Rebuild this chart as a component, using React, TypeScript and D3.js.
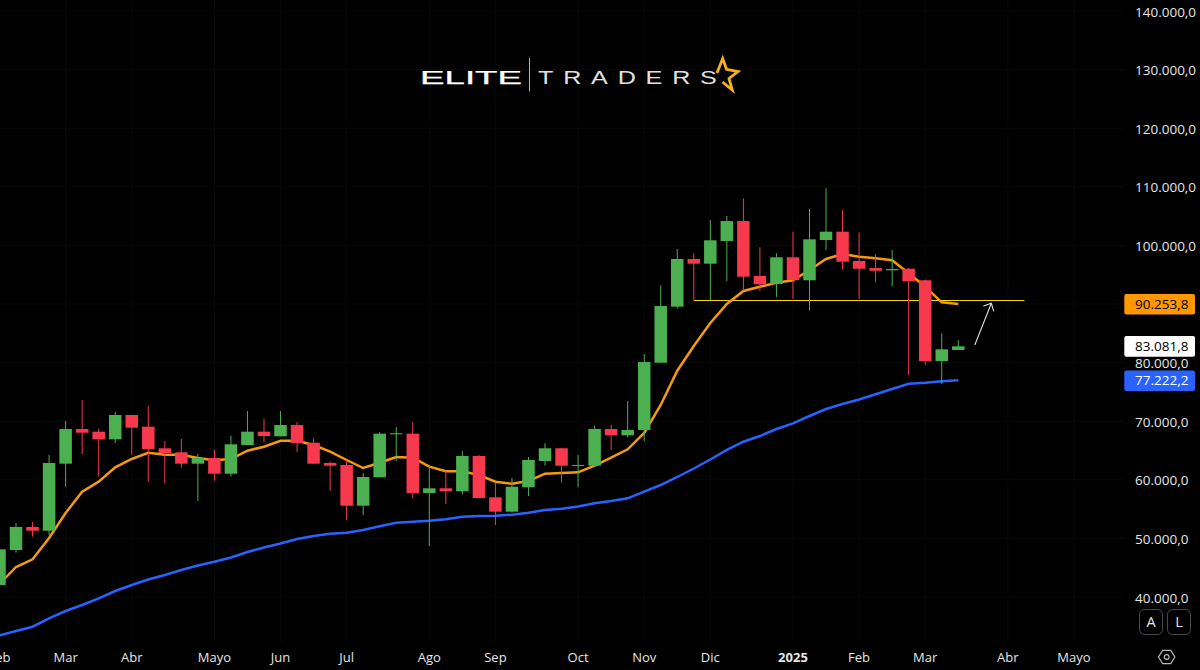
import * as d3 from "d3";

// weekly candles, prices
const opens = [
  42050, 48020, 51950, 51310, 62750, 68670, 68210, 66910, 71060, 69060,
  65380, 64690, 62750, 63720, 61040, 65940, 68210, 67420, 69350, 66330,
  62870, 62530, 55580, 60430, 67760, 67870, 57750, 58550, 58040, 64060,
  57010, 54560, 58720, 63210, 65380, 62360, 62410, 68670, 67590, 68500,
  79980, 89540, 97680, 96880, 100750, 104160, 94780, 93410, 97970, 94050,
  100920, 102340, 97340, 96140, 95750, 96020, 94050, 80270, 82150,
];
const highs = [
  48360, 52630, 52800, 64230, 70030, 73620, 68670, 71570, 71060, 72590,
  66620, 66960, 64400, 65200, 67530, 71740, 70380, 71740, 69860, 67080,
  63090, 63380, 61110, 68110, 69010, 69860, 62410, 61550, 64920, 64230,
  59510, 60310, 63890, 66230, 65380, 64230, 69230, 69350, 73450, 81470,
  93190, 99390, 98650, 104340, 105020, 108040, 99680, 98650, 102340, 106210,
  109740, 106040, 102240, 98530, 99220, 96140, 94160, 85000, 83810,
];
const lows = [
  41900, 47560, 50290, 50580, 58820, 64400, 60530, 66280, 64230, 59680,
  59330, 62070, 56380, 59850, 60530, 65940, 66400, 67420, 64740, 62750,
  58090, 53140, 53990, 60430, 63260, 56840, 48700, 55870, 57530, 56890,
  52290, 54390, 57240, 62410, 59510, 58720, 62240, 65090, 67250, 66570,
  79980, 89200, 90630, 90630, 93870, 92220, 92220, 91200, 90850, 88860,
  99220, 95850, 90850, 93700, 93020, 77880, 79590, 76300, 82150,
];
const closes = [
  48140, 51950, 51310, 62870, 68670, 68040, 66910, 71060, 68890, 65260,
  64570, 62750, 63720, 61040, 66060, 68210, 67470, 69350, 66280, 62750,
  62410, 55580, 60480, 67870, 67940, 57750, 58550, 58040, 64060, 56890,
  54560, 58820, 63380, 65380, 62410, 62530, 68670, 67590, 68500, 80100,
  89660, 97680, 96880, 100870, 104160, 94660, 93360, 97970, 94100, 101040,
  102340, 97220, 96020, 95680, 95970, 93870, 80270, 82270, 82780,
];
const emaFast = [
  42220, 45120, 46430, 50070, 54330, 57970, 59680, 62130, 63550, 64620,
  64280, 64280, 63720, 63330, 63550, 64970, 65650, 66670, 66670, 65940,
  64800, 63380, 62010, 62920, 63890, 63770, 62240, 61450, 61450, 60820,
  59680, 59330, 59800, 61040, 61160, 61280, 62410, 63770, 65200, 67990,
  72770, 78620, 82830, 86760, 90000, 92220, 92950, 93640, 94050, 95800,
  97680, 98530, 98070, 97800, 97460, 95240, 92950, 90290, 90000,
];
const emaSlow = [
  33460, 34200, 34930, 36370, 37610, 38630, 39780, 41020, 42050, 42990,
  43750, 44610, 45380, 46020, 46740, 47680, 48450, 49130, 49900, 50410,
  50800, 50970, 51430, 52070, 52680, 52850, 53020, 53260, 53700, 53820,
  53870, 54040, 54390, 54850, 55070, 55440, 55990, 56380, 56840, 57970,
  59110, 60480, 61930, 63460, 65090, 66500, 67470, 68670, 69640, 70890,
  72080, 72940, 73700, 74590, 75500, 76400, 76570, 76810, 76980,
];

const priceTicks = [140000, 130000, 120000, 110000, 100000, 80000, 70000, 60000, 50000, 40000];
const timeTicks = [
  { i: 0, label: "Feb" },
  { i: 4, label: "Mar" },
  { i: 8, label: "Abr" },
  { i: 13, label: "Mayo" },
  { i: 17, label: "Jun" },
  { i: 21, label: "Jul" },
  { i: 26, label: "Ago" },
  { i: 30, label: "Sep" },
  { i: 35, label: "Oct" },
  { i: 39, label: "Nov" },
  { i: 43, label: "Dic" },
  { i: 48, label: "2025" },
  { i: 52, label: "Feb" },
  { i: 56, label: "Mar" },
  { i: 61, label: "Abr" },
  { i: 65, label: "Mayo" },
];
const priceTags = [
  { value: 90253.8, fill: "#ff9800", text: "#000" },
  { value: 83081.8, fill: "#fff", text: "#000" },
  { value: 77222.2, fill: "#2962ff", text: "#fff" },
];
const levelPrice = 90630;
const levelFrom = 42;
const levelTo = 62;
const arrowFrom = { i: 59, price: 83000 };
const arrowTo = { i: 60, price: 90120 };

const WIDTH = 1200;
const HEIGHT = 670;
const UP = "#4caf50";
const DOWN = "#f7394d";
const FONT = "'Open Sans', sans-serif";
const LABEL = "#e6e6e6";

const x = d3.scaleLinear().domain([0, 62]).range([-0.5, 1024.4]);
const y = d3.scaleLinear().domain([40000, 140000]).range([597, 11]);

const locale = d3.formatLocale({
  decimal: ",",
  thousands: ".",
  grouping: [3],
  currency: ["", ""],
});
const fmt = locale.format(",.1f");

const line = d3
  .line<number>()
  .x((_, i) => x(i))
  .y((d) => y(d));

const candles = opens.map((o, i) => ({
  i,
  o,
  h: highs[i],
  l: lows[i],
  c: closes[i],
}));

// hexagon of the settings button
const hexagon = d3.range(6).map((k) => {
  const a = (k * Math.PI) / 3;
  return [1166.7 + 8.2 * Math.cos(a), 657 + 7.6 * Math.sin(a)] as [number, number];
});

export default function App() {
  const bodyW = 12.5;
  const tipX = x(arrowTo.i);
  const tipY = y(arrowTo.price);
  const levelY = Math.round(y(levelPrice)) + 0.5;

  return (
    <svg
      width={WIDTH}
      height={HEIGHT}
      viewBox={`0 0 ${WIDTH} ${HEIGHT}`}
      style={{ position: "fixed", left: 0, top: 0, display: "block", background: "#000" }}
    >
      <rect width={WIDTH} height={HEIGHT} fill="#000" />

      {/* faint grid */}
      {priceTicks.concat(90000).map((t) => (
        <line key={t} x1={0} x2={1124} y1={y(t)} y2={y(t)} stroke="#090909" />
      ))}
      {timeTicks.map((t, k) => (
        <line key={k} x1={x(t.i)} x2={x(t.i)} y1={0} y2={642} stroke="#090909" />
      ))}

      {/* logo */}
      <g fontFamily="'Liberation Sans', sans-serif" fontSize={18}>
        <text
          x={420}
          y={83.5}
          fill="#fff"
          stroke="#fff"
          strokeWidth={0.25}
          textLength={102}
          lengthAdjust="spacingAndGlyphs"
        >
          ELITE
        </text>
        <line x1={529.5} x2={529.5} y1={58} y2={91.5} stroke="#b5b5b5" />
        <text
          transform="translate(538 83.5) scale(1.4 1)"
          fill="#e2e2e2"
          textLength={127.8}
          lengthAdjust="spacing"
        >
          TRADERS
        </text>
        <path
          d="M717,73 L722.7,58.5 L726.5,69.3 L738,71.5 L729,78.5 L732.3,90 L722.5,82"
          fill="none"
          stroke="#f5b01e"
          strokeWidth={2.8}
        />
      </g>

      {/* moving averages and the level stay behind the candles */}
      <line x1={x(levelFrom)} x2={x(levelTo)} y1={levelY} y2={levelY} stroke="#f5d90a" strokeWidth={1} />
      <path d={line(emaSlow) ?? ""} fill="none" stroke="#2962ff" strokeWidth={2.5} />
      <path d={line(emaFast) ?? ""} fill="none" stroke="#f59a0c" strokeWidth={2.5} />

      {candles.map((d) => {
        const color = d.c >= d.o ? UP : DOWN;
        const top = y(Math.max(d.o, d.c));
        const bottom = y(Math.min(d.o, d.c));
        return (
          <g key={d.i}>
            <line x1={x(d.i)} x2={x(d.i)} y1={y(d.h)} y2={y(d.l)} stroke={color} strokeWidth={1} />
            <rect x={x(d.i) - bodyW / 2} y={top} width={bodyW} height={Math.max(1, bottom - top)} fill={color} />
          </g>
        );
      })}

      {/* hand drawn arrow */}
      <path
        d={`M${x(arrowFrom.i)},${y(arrowFrom.price)} L${tipX},${tipY} M${tipX - 8},${tipY + 2.7} L${tipX},${tipY} L${tipX + 2.4},${tipY + 8}`}
        fill="none"
        stroke="#e0e0e0"
        strokeWidth={1.1}
      />

      {/* price axis */}
      <g fontFamily={FONT} fontSize={13.5}>
        {priceTicks.map((t) => (
          <text key={t} x={1135} y={y(t) + 5.6} fill={LABEL}>
            {fmt(t)}
          </text>
        ))}
        {priceTags.map((t) => {
          const cy = y(t.value) + 1.8;
          return (
            <g key={t.value}>
              <rect x={1124.3} y={cy - 10.3} width={70.7} height={20.6} rx={2} fill={t.fill} />
              <text x={1135} y={cy + 4.8} fill={t.text}>
                {fmt(t.value)}
              </text>
            </g>
          );
        })}
      </g>

      {/* time axis */}
      <g fontFamily={FONT} fontSize={13} textAnchor="middle" fill={LABEL}>
        {timeTicks.map((t, k) => (
          <text key={k} x={x(t.i)} y={661.5} fontWeight={t.label === "2025" ? "bold" : "normal"}>
            {t.label}
          </text>
        ))}
      </g>

      {/* chart buttons */}
      <g fontFamily={FONT} fontSize={14.5} textAnchor="middle" fill={LABEL}>
        <rect x={1139.5} y={609.5} width={23} height={25} rx={5} fill="#000" stroke="#4a4a4a" />
        <text x={1151} y={627}>A</text>
        <rect x={1167.5} y={609.5} width={23} height={25} rx={5} fill="#000" stroke="#4a4a4a" />
        <text x={1179} y={627}>L</text>
      </g>
      <polygon points={hexagon.map((p) => p.join(",")).join(" ")} fill="none" stroke="#b5b5b5" strokeWidth={1.2} />
      <circle cx={1166.7} cy={657} r={2.4} fill="none" stroke="#b5b5b5" strokeWidth={1.2} />
    </svg>
  );
}
